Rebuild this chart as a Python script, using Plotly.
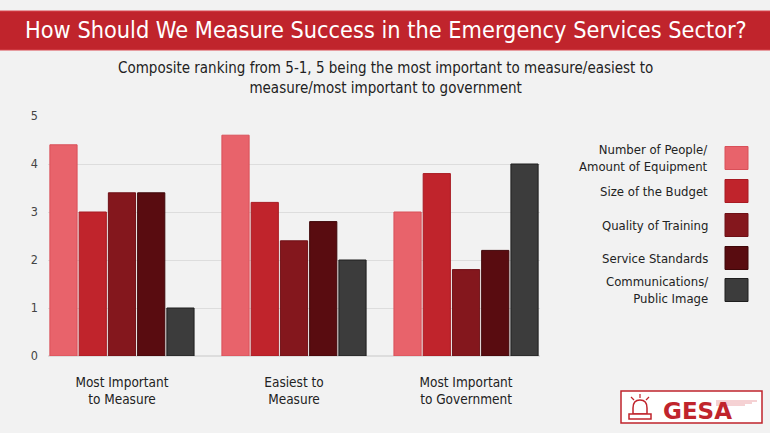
import plotly.graph_objects as go

# data
categories = ["Most Important<br>to Measure", "Easiest to<br>Measure", "Most Important<br>to Government"]
series_names = ["Number of People/<br>Amount of Equipment", "Size of the Budget",
                "Quality of Training", "Service Standards", "Communications/<br>Public Image"]
people_equipment = [4.4, 4.6, 3.0]
budget = [3.0, 3.2, 3.8]
training = [3.4, 2.4, 1.8]
service_standards = [3.4, 2.8, 2.2]
communications = [1.0, 2.0, 4.0]
y_ticks = [0, 1, 2, 3, 4, 5]

colors = ["#e8636b", "#c0242c", "#84171d", "#590c10", "#3c3c3c"]
borders = ["#d95059", "#a81a22", "#6e1016", "#3f0709", "#1e1e1e"]
values = [people_equipment, budget, training, service_standards, communications]

FONT = "DejaVu Sans Condensed, Roboto, sans-serif"

fig = go.Figure()
for name, vals, c, b in zip(series_names, values, colors, borders):
    fig.add_trace(go.Bar(x=categories, y=vals, name=name, marker_color=c,
                         marker_line_color=b, marker_line_width=1, showlegend=False))

fig.update_layout(
    width=770, height=433,
    paper_bgcolor="#f2f2f2", plot_bgcolor="#f2f2f2",
    margin=dict(l=48, r=230, t=116, b=77),
    barmode="group", bargap=0.15, bargroupgap=0.07,
    font=dict(family=FONT, color="#333333", size=12),
)
fig.update_xaxes(range=[-0.43, 2.43], showgrid=False, zeroline=False, showline=False,
                 ticks="", ticklabelstandoff=16, tickfont=dict(size=13.5, color="#222222"))
fig.update_yaxes(range=[0, 5], tickvals=y_ticks, showgrid=True, gridcolor="#dddddd",
                 zeroline=True, zerolinecolor="#dddddd", ticks="", ticklabelstandoff=9,
                 tickfont=dict(size=12.5, color="#444444"))


# helpers: reference pixel -> paper / y-domain coordinates
def px_x(v):
    return (v - 48) / 492


def px_y(v):
    return (356 - v) / 240


# title banner
fig.add_shape(type="rect", xref="paper", yref="y domain", x0=px_x(-5), x1=px_x(775),
              y0=px_y(50), y1=px_y(11),
              line=dict(color="#d9474f", width=1), fillcolor="#c0242c")
fig.add_annotation(text="How Should We Measure Success in the Emergency Services Sector?",
                   xref="paper", yref="y domain", x=px_x(386), y=px_y(30),
                   xanchor="center", yanchor="middle",
                   showarrow=False, font=dict(size=23.3, color="white"))
fig.add_annotation(text="Composite ranking from 5-1, 5 being the most important to measure/easiest to<br>"
                        "measure/most important to government",
                   xref="paper", yref="y domain", x=px_x(385), y=px_y(78),
                   xanchor="center", yanchor="middle",
                   showarrow=False, font=dict(size=15, color="#222222"))

# legend on the right: text then swatch
legend_y = [158, 191, 225, 258, 290]
for name, c, b, py in zip(series_names, colors, borders, legend_y):
    fig.add_shape(type="rect", xref="paper", yref="y domain",
                  x0=px_x(725), x1=px_x(748), y0=px_y(py + 11.5), y1=px_y(py - 11.5),
                  line=dict(color=b, width=1), fillcolor=c)
    fig.add_annotation(text=name, xref="paper", yref="y domain", x=px_x(710), y=px_y(py),
                       xanchor="right", yanchor="middle", align="right", showarrow=False,
                       font=dict(size=13, color="#222222"))

# logo box
fig.add_shape(type="rect", xref="paper", yref="y domain", x0=px_x(621), x1=px_x(762),
              y0=px_y(423), y1=px_y(391), line=dict(color="#c0242c", width=1.5), fillcolor="white")
fig.add_annotation(text="<b>GESA</b>", xref="paper", yref="y domain", x=px_x(661), y=px_y(411),
                   xanchor="left", yanchor="middle", showarrow=False,
                   font=dict(family="DejaVu Sans", size=23, color="#c0242c"))
# siren icon
fig.add_shape(type="path", xref="paper", yref="y domain",
              path=f"M {px_x(633)} {px_y(414)} L {px_x(633)} {px_y(408)} "
                   f"Q {px_x(633)} {px_y(400)} {px_x(640)} {px_y(400)} "
                   f"Q {px_x(647)} {px_y(400)} {px_x(647)} {px_y(408)} L {px_x(647)} {px_y(414)} Z",
              line=dict(color="#c0242c", width=1.5), fillcolor="white")
fig.add_shape(type="rect", xref="paper", yref="y domain", x0=px_x(629), x1=px_x(651),
              y0=px_y(419), y1=px_y(414), line=dict(color="#c0242c", width=1.5), fillcolor="white")
for x0, y0, x1, y1 in [(640, 398, 640, 394), (634, 400, 631, 397), (646, 400, 649, 397)]:
    fig.add_shape(type="line", xref="paper", yref="y domain", x0=px_x(x0), y0=px_y(y0),
                  x1=px_x(x1), y1=px_y(y1), line=dict(color="#c0242c", width=1.2))
for yy, xend in [(401, 757), (403, 752), (405, 745)]:
    fig.add_shape(type="line", xref="paper", yref="y domain", x0=px_x(716), y0=px_y(yy),
                  x1=px_x(xend), y1=px_y(yy), line=dict(color="#eba4a8", width=1))

fig.write_html("out.html", config={"displayModeBar": False},
               post_script="document.body.style.margin='0';")
